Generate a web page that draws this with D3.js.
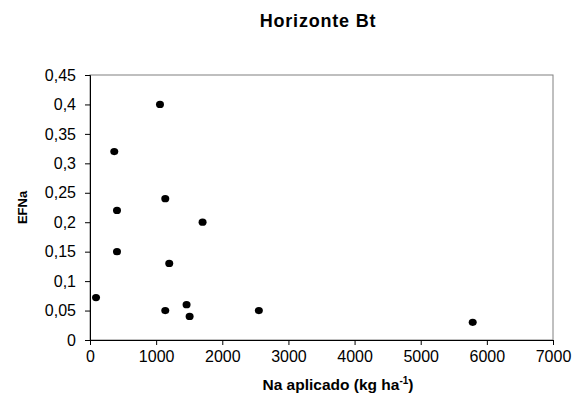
<!DOCTYPE html>
<html>
<head>
<meta charset="utf-8">
<script src="https://cdn.jsdelivr.net/npm/d3@7"></script>
<style>
  body { margin: 0; background: #fff; }
  svg { display: block; font-family: "Liberation Sans", Arial, sans-serif; }
</style>
</head>
<body>
<div id="chart"></div>
<script>
// Na aplicado (kg ha-1) vs EFNa, Horizonte Bt
const naAplicado = [1058, 367, 1138, 408, 1702, 408, 1198, 91, 1138, 1460, 1506, 2553, 5786];
const efna = [0.40, 0.32, 0.24, 0.22, 0.20, 0.15, 0.13, 0.072, 0.05, 0.06, 0.04, 0.05, 0.03];
const xTicks = [0, 1000, 2000, 3000, 4000, 5000, 6000, 7000];
const yTicks = [0, 0.05, 0.1, 0.15, 0.2, 0.25, 0.3, 0.35, 0.4, 0.45];

const width = 585;
const height = 396;
const margin = { top: 75, right: 32, bottom: 56, left: 90 };

const svg = d3.select('#chart')
  .append('svg')
  .attr('width', width)
  .attr('height', height);

const x = d3.scaleLinear()
  .domain([0, 7000])
  .range([margin.left, width - margin.right]);

const y = d3.scaleLinear()
  .domain([0, 0.45])
  .range([height - margin.bottom, margin.top]);

// Plot frame (top and right in grey)
svg.append('rect')
  .attr('x', x(0))
  .attr('y', y(0.45))
  .attr('width', x(7000) - x(0))
  .attr('height', y(0) - y(0.45))
  .attr('fill', 'none')
  .attr('stroke', '#808080')
  .attr('stroke-width', 1);

// Axes
const xAxis = svg.append('g')
  .attr('transform', `translate(0,${y(0)})`)
  .call(d3.axisBottom(x).tickValues(xTicks).tickSize(5).tickPadding(6).tickFormat(d => String(d)));

const yAxis = svg.append('g')
  .attr('transform', `translate(${x(0)},0)`)
  .call(d3.axisLeft(y).tickValues(yTicks).tickSize(5).tickPadding(9).tickFormat(d => String(d).replace('.', ',')));

[xAxis, yAxis].forEach(a => {
  a.selectAll('path, line').attr('stroke', '#000');
  a.selectAll('text')
    .attr('fill', '#000')
    .attr('font-size', '16px')
    .attr('font-family', '"Liberation Sans", Arial, sans-serif');
});

// Points
svg.append('g')
  .selectAll('ellipse')
  .data(naAplicado.map((d, i) => ({ x: d, y: efna[i] })))
  .enter().append('ellipse')
  .attr('cx', d => x(d.x))
  .attr('cy', d => y(d.y))
  .attr('rx', 4)
  .attr('ry', 3.6)
  .attr('fill', '#000');

// Title
svg.append('text')
  .attr('x', 318)
  .attr('y', 27)
  .attr('text-anchor', 'middle')
  .attr('font-size', '18px')
  .attr('font-weight', 'bold')
  .attr('letter-spacing', '0.8px')
  .text('Horizonte Bt');

// X axis title with superscript
const xt = svg.append('text')
  .attr('x', 338)
  .attr('y', 390)
  .attr('text-anchor', 'middle')
  .attr('font-size', '15.5px')
  .attr('font-weight', 'bold');
xt.append('tspan').text('Na aplicado (kg ha');
xt.append('tspan').attr('font-size', '10px').attr('dy', -6).text('-1');
xt.append('tspan').attr('dy', 6).text(')');

// Y axis title
svg.append('text')
  .attr('transform', `translate(27,${(y(0) + y(0.45)) / 2}) rotate(-90)`)
  .attr('text-anchor', 'middle')
  .attr('font-size', '13px')
  .attr('font-weight', 'bold')
  .text('EFNa');
</script>
</body>
</html>
